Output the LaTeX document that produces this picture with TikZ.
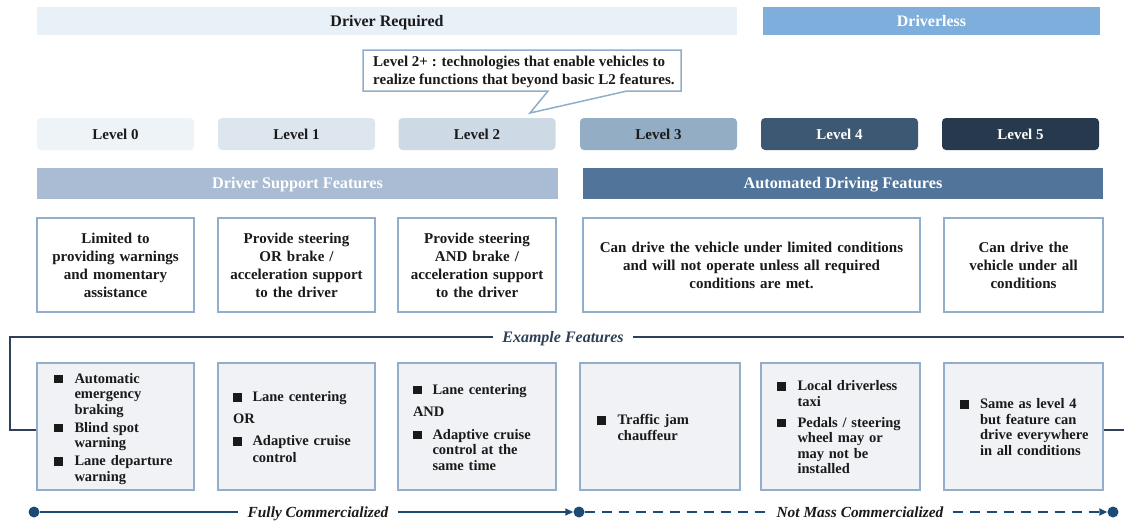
\documentclass[tikz,border=0pt]{standalone}
\usepackage{fontspec}
\setmainfont{Liberation Serif}
\usetikzlibrary{arrows.meta,calc}
\definecolor{txt}{HTML}{1A1A1A}
\definecolor{drvreq}{HTML}{E8F0F8}
\definecolor{drvless}{HTML}{7DAEDC}
\definecolor{cbord}{HTML}{8FAECB}
\definecolor{lvA}{HTML}{EEF3F8}
\definecolor{lvB}{HTML}{DDE6EF}
\definecolor{lvC}{HTML}{CDDAE6}
\definecolor{lvD}{HTML}{93ADC5}
\definecolor{lvE}{HTML}{3D5873}
\definecolor{lvF}{HTML}{26394D}
\definecolor{dsf}{HTML}{AABCD3}
\definecolor{adf}{HTML}{51749A}
\definecolor{bxb}{HTML}{93AECB}
\definecolor{featfill}{HTML}{F0F2F5}
\definecolor{exline}{HTML}{2D4156}
\definecolor{tlcol}{HTML}{1C4A75}
\newcommand{\sqb}{\rule[0pt]{8.5pt}{8.5pt}}
\newcommand{\dn}[2]{\raisebox{-#1}[\height][\depth]{#2}}
\begin{document}
\begin{tikzpicture}[x=1pt,y=-1pt,text=txt,
  bar/.style={minimum height=28pt,inner sep=0pt,text height=10.8pt,text depth=0pt,font=\fontsize{16}{18}\selectfont\bfseries},
  lvl/.style={rounded corners=4pt,minimum width=157pt,minimum height=32pt,inner sep=0pt,font=\fontsize{15}{18}\selectfont\bfseries},
  band/.style={minimum height=31pt,inner sep=0pt,text height=10.8pt,text depth=0pt,text=white,font=\fontsize{16.2}{18}\selectfont\bfseries},
  desc/.style={draw=bxb,line width=2.4pt,fill=white,minimum height=94pt,inner ysep=0pt,inner xsep=3pt,align=center,font=\fontsize{15}{18}\selectfont\bfseries},
  feat/.style={draw=bxb,line width=2.4pt,fill=featfill,minimum height=127pt,inner ysep=0pt,align=left,font=\fontsize{14.5}{15.5}\selectfont\bfseries},
  exlab/.style={inner xsep=9pt,inner ysep=0pt,text height=10.5pt,text depth=0pt,text=exline,font=\fontsize{16}{18}\selectfont\bfseries\itshape},
  tlab/.style={inner xsep=9pt,inner ysep=0pt,text height=10.2pt,text depth=0pt,text=txt,font=\fontsize{15.4}{18}\selectfont\bfseries\itshape},
  dot/.style={circle,fill=tlcol,minimum size=11pt,inner sep=0pt},
  tl/.style={draw=tlcol,line width=1.8pt},
  tldash/.style={tl,dash pattern=on 10pt off 7pt},
  tip/.style={-{Triangle[length=8pt,width=7pt]}}
]
\useasboundingbox (0,0) rectangle (1124,520);

% top bars
\node[bar,fill=drvreq,minimum width=700pt] (dr) at (387,21) {Driver Required};
\node[bar,fill=drvless,minimum width=337pt,text=white] (dl) at (931.5,21) {Driverless};

% callout
\draw[draw=cbord,line width=1.5pt,fill=white,line join=miter]
  (363,50) -- (681,50) -- (681,91) -- (627,91) -- (530,113) -- (548,91) -- (363,91) -- cycle;
\node[anchor=west,align=left,inner sep=0pt,font=\fontsize{15}{18}\selectfont\bfseries] (co) at (373,71.5)
  {Level 2+ : technologies that enable vehicles to\\realize functions that beyond basic L2 features.};

% levels
\node[lvl,fill=lvA] (l0) at (115.5,134) {Level 0};
\node[lvl,fill=lvB] (l1) at (296.5,134) {Level 1};
\node[lvl,fill=lvC] (l2) at (477,134) {Level 2};
\node[lvl,fill=lvD] (l3) at (658.5,134) {Level 3};
\node[lvl,fill=lvE,text=white] (l4) at (839.5,134) {Level 4};
\node[lvl,fill=lvF,text=white] (l5) at (1020.5,134) {Level 5};

% feature bands
\node[band,fill=dsf,minimum width=521pt] (dsfb) at (297.5,183.5) {Driver Support Features};
\node[band,fill=adf,minimum width=520pt] (adfb) at (843,183.5) {Automated Driving Features};

% description boxes
\node[desc,minimum width=157pt,text width=151pt] (d1) at (115.5,265) {\dn{2pt}{\begin{tabular}{@{}c@{}}Limited to\\providing warnings\\and momentary\\assistance\end{tabular}}};
\node[desc,minimum width=157pt,text width=151pt] (d2) at (296.5,265) {\dn{2pt}{\begin{tabular}{@{}c@{}}Provide steering\\OR brake /\\acceleration support\\to the driver\end{tabular}}};
\node[desc,minimum width=158pt,text width=152pt] (d3) at (477,265) {\dn{2pt}{\begin{tabular}{@{}c@{}}Provide steering\\AND brake /\\acceleration support\\to the driver\end{tabular}}};
\node[desc,minimum width=337pt,text width=331pt] (d4) at (751.5,265) {\dn{2pt}{\begin{tabular}{@{}c@{}}Can drive the vehicle under limited conditions\\and will not operate unless all required\\conditions are met.\end{tabular}}};
\node[desc,minimum width=159pt,text width=153pt] (d5) at (1023.5,265) {\dn{2pt}{\begin{tabular}{@{}c@{}}Can drive the\\vehicle under all\\conditions\end{tabular}}};

% example feature boxes
\node[feat,minimum width=157pt,inner xsep=17pt,text width=123pt] (f1) at (115.5,426.5) {\dn{2.5pt}{%
\begin{tabular}{@{}l@{\hspace{12pt}}l@{}}
\sqb & Automatic\\
 & emergency\\
 & braking\\[2.5pt]
\sqb & Blind spot\\
 & warning\\[2.5pt]
\sqb & Lane departure\\
 & warning
\end{tabular}}};
\node[feat,minimum width=157pt,inner xsep=15pt,text width=127pt] (f2) at (296.5,426.5) {\dn{2.5pt}{%
\begin{tabular}{@{}l@{\hspace{11pt}}l@{}}
\sqb & Lane centering\\[6.5pt]
\multicolumn{2}{@{}l@{}}{OR}\\[6.5pt]
\sqb & Adaptive cruise\\[1.5pt]
 & control
\end{tabular}}};
\node[feat,minimum width=158pt,inner xsep=15pt,text width=128pt] (f3) at (477,426.5) {\dn{2.5pt}{%
\begin{tabular}{@{}l@{\hspace{11pt}}l@{}}
\sqb & Lane centering\\[7pt]
\multicolumn{2}{@{}l@{}}{AND}\\[7pt]
\sqb & Adaptive cruise\\
 & control at the\\
 & same time
\end{tabular}}};
\node[feat,minimum width=160pt,inner xsep=17pt,text width=126pt] (f4) at (660,426.5) {\dn{3pt}{%
\begin{tabular}{@{}l@{\hspace{12pt}}l@{}}
\sqb & Traffic jam\\
 & chauffeur
\end{tabular}}};
\node[feat,minimum width=159pt,inner xsep=16pt,text width=127pt] (f5) at (840.5,426.5) {\dn{2.5pt}{%
\begin{tabular}{@{}l@{\hspace{12pt}}l@{}}
\sqb & Local driverless\\
 & taxi\\[5.5pt]
\sqb & Pedals / steering\\
 & wheel may or\\
 & may not be\\
 & installed
\end{tabular}}};
\node[feat,minimum width=159pt,inner xsep=16pt,text width=127pt] (f6) at (1023.5,426.5) {\dn{2.5pt}{%
\begin{tabular}{@{}l@{\hspace{11.5pt}}l@{}}
\sqb & Same as level 4\\
 & but feature can\\
 & drive everywhere\\
 & in all conditions
\end{tabular}}};

% example features bracket
\node[exlab] (ex) at (563,337) {Example Features};
\coordinate (exL) at (10,337);
\coordinate (exR) at (1124,337);
\coordinate (exB) at (10,430);
\coordinate (exE) at (1124,430);
\draw[draw=exline,line width=2.5pt] (ex.west) -- (exL) -- (exB) -- (exB -| f1.west);
\draw[draw=exline,line width=2.5pt] (ex.east) -- (exR);
\draw[draw=exline,line width=2.5pt] (exE -| f6.east) -- (exE);

% timeline
\node[dot] (p0) at (34,512) {};
\node[tlab] (fc) at (318,512) {Fully Commercialized};
\node[dot] (p1) at (579,512) {};
\node[tlab] (nm) at (860,512) {Not Mass Commercialized};
\node[dot] (p2) at (1113,512) {};
\draw[tl] (p0) -- (fc);
\draw[tl,tip] (fc) -- (p1);
\draw[tldash] (p1) -- (nm);
\draw[tldash,tip] (nm) -- (p2);
\end{tikzpicture}
\end{document}
